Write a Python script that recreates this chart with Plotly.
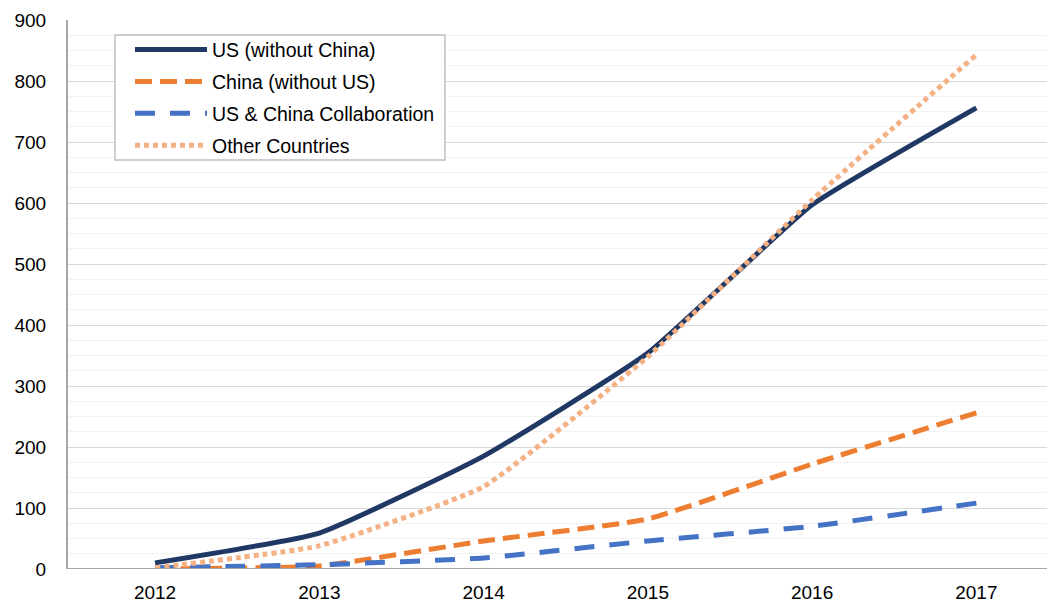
import plotly.graph_objects as go

years = [2012, 2013, 2014, 2015, 2016, 2017]
us_without_china = [10, 59, 185, 354, 597, 756]
china_without_us = [0, 5, 46, 82, 172, 256]
us_china_collab = [2, 7, 18, 46, 70, 108]
other_countries = [2, 38, 135, 348, 605, 843]

font_family = "Liberation Sans, Arial, sans-serif"

series = [
    ("US (without China)", us_without_china, "#203864", "solid"),
    ("China (without US)", china_without_us, "#ED7D31", "17px,8px"),
    ("US & China Collaboration", us_china_collab, "#4472C4", "20px,15px"),
    ("Other Countries", other_countries, "#F4B183", "5px,4px"),
]

fig = go.Figure()
for i, (name, values, color, dash) in enumerate(series):
    fig.add_trace(go.Scatter(
        x=years, y=values, mode="lines", name=name, legendgroup=f"g{i}",
        line=dict(color=color, width=5, dash=dash, shape="spline", smoothing=0.4)))

fig.update_layout(
    width=1047, height=603,
    margin=dict(l=68, r=0, t=20, b=34),
    plot_bgcolor="white", paper_bgcolor="white",
    font=dict(family=font_family, size=19, color="#000000"),
    legend=dict(
        x=0.0633, y=0.981, xanchor="left", yanchor="top",
        bgcolor="rgba(0,0,0,0)", borderwidth=0,
        font=dict(family=font_family, size=19.5, color="#000000"),
        itemwidth=72, tracegroupgap=3.5,
    ),
    xaxis=dict(
        range=[2011.47, 2017.43], tickvals=years, ticktext=[str(y) for y in years],
        showgrid=False, zeroline=False, showline=False, ticks="",
        tickfont=dict(size=19), ticklabelstandoff=10, automargin=False,
    ),
    yaxis=dict(
        range=[0, 900], dtick=100, showgrid=True, gridcolor="#d9d9d9", gridwidth=1,
        zeroline=False, showline=True, linecolor="#a6a6a6", linewidth=2,
        ticks="", tickfont=dict(size=19), ticklabelstandoff=16, automargin=False,
        minor=dict(dtick=25, showgrid=True, gridcolor="#f2f2f2", gridwidth=1),
    ),
)
# x baseline
fig.add_shape(type="line", xref="paper", yref="y", x0=0, x1=1, y0=0, y1=0,
              line=dict(color="#a6a6a6", width=2))
# legend frame
fig.add_shape(type="rect", xref="paper", yref="paper", layer="above",
              x0=0.048, x1=0.385, y0=0.745, y1=0.9727,
              fillcolor="white", line=dict(color="#bfbfbf", width=1.5))

fig.write_html("out.html")
